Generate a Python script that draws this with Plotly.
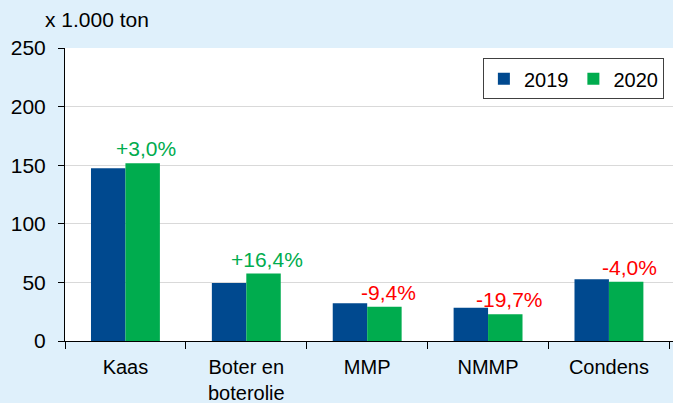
import plotly.graph_objects as go

categories = ["Kaas", "Boter en<br>boterolie", "MMP", "NMMP", "Condens"]
values_2019 = [147.5, 49.5, 32.3, 28.4, 52.7]
values_2020 = [151.7, 57.5, 29.3, 22.8, 50.6]
changes = ["+3,0%", "+16,4%", "-9,4%", "-19,7%", "-4,0%"]

BLUE = "#00498F"
GREEN = "#00AC4E"
FONT = "Liberation Sans, Arial, sans-serif"

fig = go.Figure()
fig.add_trace(go.Bar(x=categories, y=values_2019, name="2019", marker_color=BLUE,
                     marker_line_width=0))
fig.add_trace(go.Bar(x=categories, y=values_2020, name="2020", marker_color=GREEN,
                     marker_line_width=0))

for cat, v, txt in zip(categories, values_2020, changes):
    color = GREEN if txt.startswith("+") else "#FF0000"
    fig.add_annotation(x=cat, y=v, text=txt, showarrow=False, xshift=21, yshift=1,
                       yanchor="bottom", font=dict(size=21, color=color, family=FONT))

fig.add_annotation(xref="paper", yref="paper", x=-0.036, y=1.0, yshift=15,
                   xanchor="left", yanchor="bottom", text="x 1.000 ton", showarrow=False,
                   font=dict(size=21, color="#000000", family=FONT))

fig.update_layout(
    width=673, height=403,
    margin=dict(l=65, r=0, t=48, b=62),
    paper_bgcolor="#DFF0FB",
    plot_bgcolor="#FFFFFF",
    barmode="group",
    bargap=0.43,
    bargroupgap=0,
    font=dict(family=FONT, size=20, color="#000000"),
    showlegend=True,
    legend=dict(orientation="h", x=0.985, y=0.965, xanchor="right", yanchor="top",
                bgcolor="#FFFFFF", bordercolor="#404040", borderwidth=1,
                font=dict(size=20, family=FONT), itemwidth=30,
                tracegroupgap=0),
)
fig.update_xaxes(range=[-0.5, 4.53], showline=True, linecolor="#000000", linewidth=1,
                 ticks="outside", tickson="boundaries", ticklen=7, tickcolor="#000000",
                 showgrid=False, tickfont=dict(size=20, family=FONT), ticklabelstandoff=8)
fig.update_yaxes(range=[0, 250], dtick=50, showline=True, linecolor="#000000", linewidth=1,
                 ticks="outside", ticklen=6, tickcolor="#000000",
                 showgrid=True, gridcolor="#D9D9D9", gridwidth=1, zeroline=False,
                 tickfont=dict(size=21, family=FONT), ticklabelstandoff=8)

fig.write_html("out.html", config={"displayModeBar": False},
               post_script="document.body.style.margin='0';")
